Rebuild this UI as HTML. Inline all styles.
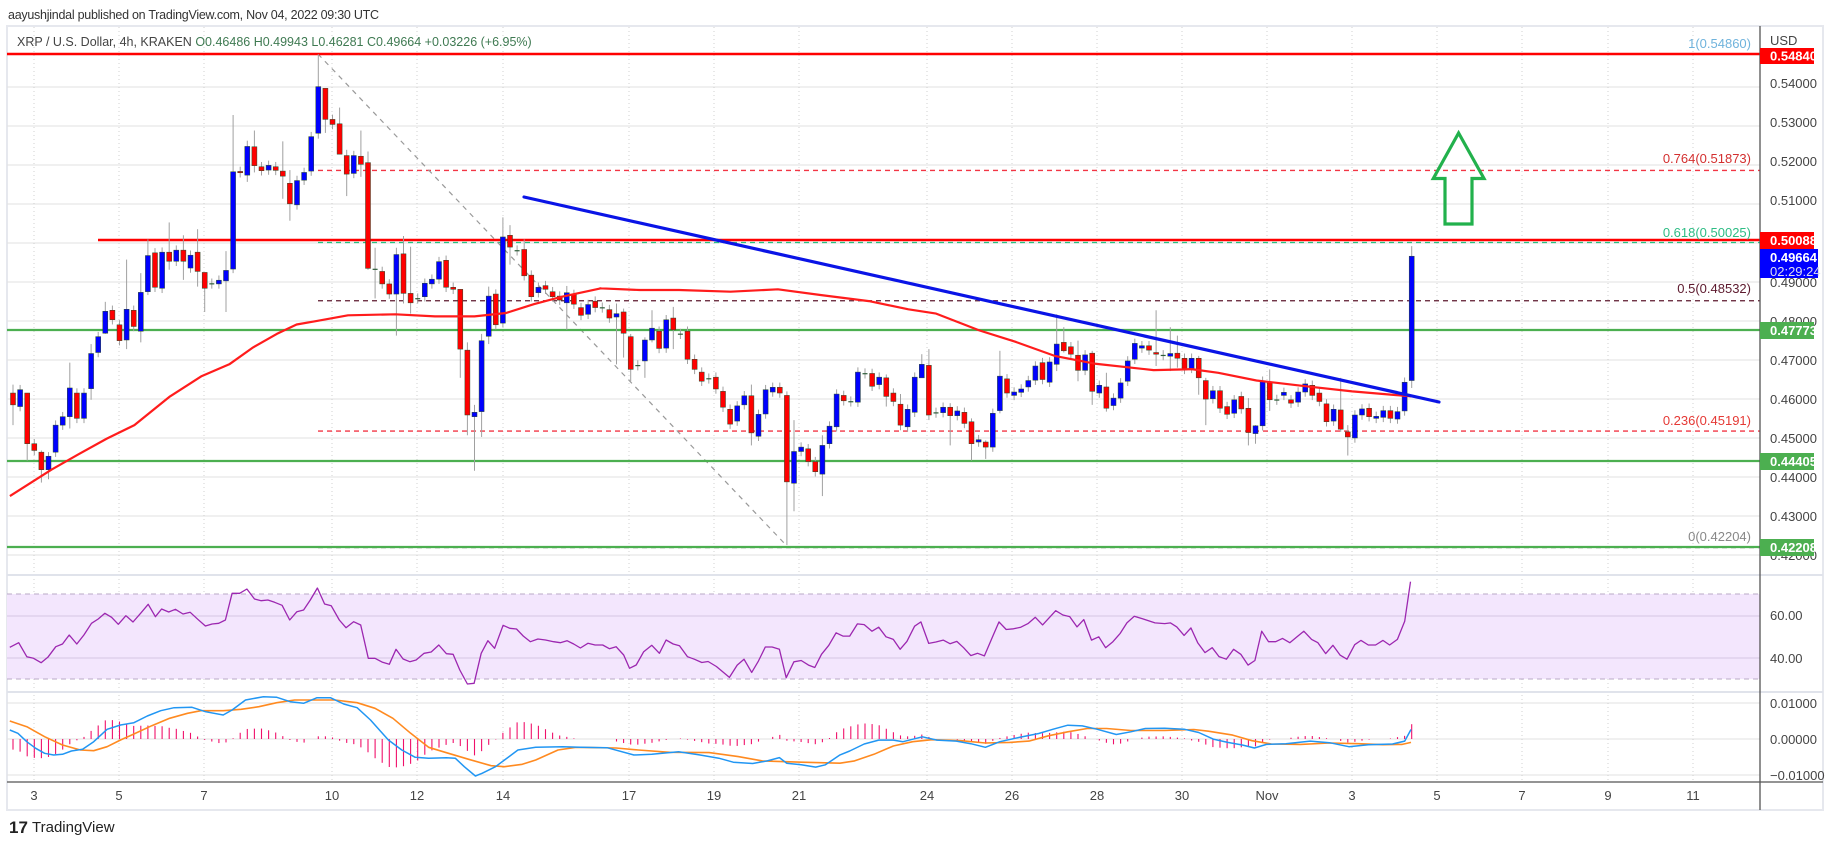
<!DOCTYPE html>
<html><head><meta charset="utf-8">
<style>
html,body{margin:0;padding:0;background:#fff;}
svg{display:block;font-family:"Liberation Sans",sans-serif;}
</style></head>
<body>
<svg id="s" width="1834" height="845" viewBox="0 0 1834 845" xmlns="http://www.w3.org/2000/svg">
<rect width="1834" height="845" fill="#fff"/>
<text x="8" y="19" font-size="12.5" fill="#333" textLength="371">aayushjindal published on TradingView.com, Nov 04, 2022 09:30 UTC</text>
<rect x="7" y="26" width="1816" height="784" fill="#fff" stroke="#e6e8ee" stroke-width="2"/>
<g id="grid"></g>
<rect x="7" y="594" width="1753" height="85" fill="#f3e6fd"/>
<g id="main"></g>
<text x="17" y="46" font-size="12.5" fill="#444"><tspan>XRP / U.S. Dollar, 4h, KRAKEN </tspan><tspan fill="#3f7a52">O0.46486  H0.49943  L0.46281  C0.49664  +0.03226 (+6.95%)</tspan></text>
<g id="axis" font-size="13" fill="#444"></g>
<g font-size="15" fill="#222"><text x="9" y="833" font-weight="bold" font-size="17">17</text><text x="32" y="832">TradingView</text></g>
</svg>
<script>
const NS="http://www.w3.org/2000/svg";
function el(par,tag,at,txt){const e=document.createElementNS(NS,tag);for(const k in at)e.setAttribute(k,at[k]);if(txt!==undefined)e.textContent=txt;document.getElementById(par).appendChild(e);return e;}
const PY=p=>555-(p-0.42)*3900;
const Y=p=>40+p/2.96;
// grid
for(let v=0.42;v<0.5451;v+=0.01){el('grid','line',{x1:7,x2:1760,y1:PY(v),y2:PY(v),stroke:'#e2e2e2','stroke-width':1});}
[616,658].forEach(y=>el('grid','line',{x1:7,x2:1760,y1:y,y2:y,stroke:'#e2e2e2'}));
[703,739,775].forEach(y=>el('grid','line',{x1:7,x2:1760,y1:y,y2:y,stroke:'#e2e2e2'}));
const dates=[["3",34],["5",119],["7",204],["10",332],["12",417],["14",503],["17",629],["19",714],["21",799],["24",927],["26",1012],["28",1097],["30",1182],["Nov",1267],["3",1352],["5",1437],["7",1522],["9",1608],["11",1693]];
dates.forEach(d=>el('grid','line',{x1:d[1],x2:d[1],y1:27,y2:782,stroke:'#d0d0d0','stroke-dasharray':'1,3'}));
// panes
el('main','line',{x1:7,x2:1823,y1:575,y2:575,stroke:'#e0e3eb','stroke-width':2});
el('main','line',{x1:7,x2:1823,y1:692,y2:692,stroke:'#e0e3eb','stroke-width':2});
el('main','line',{x1:7,x2:1760,y1:594,y2:594,stroke:'#b9a9c6','stroke-dasharray':'5,4'});
el('main','line',{x1:7,x2:1760,y1:679,y2:679,stroke:'#b9a9c6','stroke-dasharray':'5,4'});
el('main','line',{x1:7,x2:1760,y1:616,y2:616,stroke:'#d4c6e2'});
el('main','line',{x1:7,x2:1760,y1:658,y2:658,stroke:'#d4c6e2'});
// fib lines
const fx0=318;
[[0.5486,'#7a9cc0'],[0.51873,'#f23645'],[0.50025,'#26c281'],[0.48532,'#5d1a2e'],[0.45191,'#f23645'],[0.42204,'#888']].forEach(f=>{
 el('main','line',{x1:fx0,x2:1760,y1:PY(f[0])+0.5,y2:PY(f[0])+0.5,stroke:f[1],'stroke-width':1.3,'stroke-dasharray':'5,4'});});
el('main','line',{x1:318,y1:54,x2:786,y2:545,stroke:'#999','stroke-width':1.2,'stroke-dasharray':'5,5'});
// horizontals
el('main','line',{x1:7,x2:1760,y1:54,y2:54,stroke:'#ff0000','stroke-width':2.5});
el('main','line',{x1:98,x2:1760,y1:240,y2:240,stroke:'#ff0000','stroke-width':2.5});
[330,461,547].forEach(y=>el('main','line',{x1:7,x2:1760,y1:y,y2:y,stroke:'#4caf50','stroke-width':2.2}));
// fib labels
[["1(0.54860)",'#6fb3dc',48],["0.764(0.51873)",'#d32f2f',163],["0.618(0.50025)",'#2ebd85',237],["0.5(0.48532)",'#5d1a2e',293],["0.236(0.45191)",'#e53935',425],["0(0.42204)",'#888',541]].forEach(l=>el('main','text',{x:1751,y:l[2],'text-anchor':'end','font-size':13,fill:l[1]},l[0]));
// candles
const C=[
['r',1045,1080],['b',1035,1085],['r',1045,1195],['r',1195,1215],['r',1220,1272],['b',1232,1272],['b',1140,1220],['b',1115,1140],['b',1030,1115],['r',1045,1120],
['b',1045,1120],['b',928,1032],['b',878,925],['b',803,868],['r',800,828],['r',843,890],['b',797,888],['r',800,848],['b',747,862],['b',638,745],
['r',630,732],['b',628,735],['r',628,655],['b',622,655],['r',622,655],['b',637,675],['r',628,685],['r',688,735],['d',720,722],['b',711,722],
['b',682,713],['b',390,678],['r',389,393],['b',315,400],['r',316,372],['r',375,387],['b',371,385],['r',375,386],['r',388,403],['r',424,485],
['b',416,488],['b',392,415],['b',286,388],['b',138,276],['r',143,235],['r',235,250],['r',248,338],['r',342,397],['b',342,395],['r',344,368],
['r',363,676],['d',677,679],['r',685,722],['r',722,752],['b',635,752],['r',633,750],['r',750,778],['d',764,766],['b',720,760],['b',708,722],
['b',656,708],['r',652,732],['r',732,738],['r',738,915],['r',918,1110],['b',1102,1115],['b',890,1100],['b',758,877],['r',752,843],['b',583,838],
['r',578,613],['d',622,624],['r',620,698],['r',696,760],['b',732,748],['r',727,738],['r',745,760],['r',758,770],['b',748,778],['r',753,782],
['r',792,815],['b',783,812],['r',773,792],['d',791,793],['r',798,823],['b',810,820],
['r',805,868],['r',878,975],['d',962,964],['b',888,950],['b',853,888],['r',862,913],['b',828,912],['r',823,858],['d',869,871],['r',862,945],
['r',945,975],['r',983,1010],['d',1001,1003],['r',998,1033],['r',1040,1087],['r',1093,1137],['b',1083,1128],['b',1053,1080],['r',1053,1163],['b',1108,1173],
['b',1035,1107],['b',1028,1042],['r',1028,1045],['r',1052,1308],['b',1218,1312],['b',1205,1218],['r',1210,1248],['r',1248,1278],['b',1200,1285],['b',1143,1195],
['b',1048,1145],['r',1052,1068],['d',1069,1071],['b',983,1072],['d',986,988],['r',987,1025],['b',998,1020],['r',1000,1055],['r',1045,1070],['r',1078,1140],
['b',1093,1145],['b',998,1102],['b',960,1000],['r',963,1110],['d',1102,1104],['b',1087,1103],['r',1087,1112],['b',1098,1112],['r',1102,1135],['r',1130,1195],
['b',1183,1190],['r',1190,1205],['b',1105,1205],['b',995,1097],['r',1003,1045],['b',1042,1052],['b',1033,1043],['b',1008,1027],['b',965,1007],['r',955,1005],
['b',953,1013],['b',900,960],['r',895,920],['r',908,930],['r',933,978],['b',932,978],['r',927,1040],['b',1022,1045],['r',1027,1090],['b',1060,1082],
['b',1015,1060],['b',950,1010],['b',898,945],['b',905,912],['r',905,918],['r',925,930],['d',932,934],['b',928,936],['r',927,942],['r',942,975],
['b',942,972],['r',942,1000],['r',1008,1063],['b',1038,1062],['r',1038,1090],
['r',1085,1108],['b',1065,1105],['r',1055,1092],['r',1090,1162],['b',1142,1165],['b',1010,1142],['r',1013,1065],['d',1064,1066],['b',1043,1052],['r',1065,1075],
['b',1042,1072],['b',1018,1042],['r',1022,1052],['r',1045,1070],['r',1077,1130],['b',1093,1128],['r',1095,1152],['r',1160,1175],['b',1110,1178],['b',1092,1110],
['r',1090,1115],['b',1114,1120],['b',1097,1117],['r',1097,1120],['b',1100,1122],['b',1013,1098],['b',640,1008]];
const W={1:[1020,1140],3:[1045,1245],5:[1215,1310],6:[1220,1300],9:[955,1150],12:[900,1065],14:[775,870],17:[650,915],19:[690,895],20:[590,755],23:[540,680],25:[578,710],27:[560,730],28:[688,805],31:[625,805],32:[222,690],34:[298,420],35:[268,392],39:[300,470],40:[385,535],44:[42,292],45:[143,275],47:[200,338],48:[325,462],50:[268,405],51:[330,680],52:[615,765],55:[615,875],56:[580,780],57:[612,810],64:[738,1000],65:[895,1170],66:[1080,1275],67:[870,1175],68:[730,900],70:[525,850],71:[548,665],73:[590,712],79:[728,858],86:[780,960],87:[795,940],88:[870,1010],90:[880,1000],91:[800,895],94:[790,915],105:[1020,1200],110:[1040,1495],111:[1125,1395],115:[1170,1350],124:[990,1085],126:[1048,1155],129:[930,1000],130:[915,1125],133:[1075,1200],136:[1120,1245],138:[1185,1240],140:[920,1105],148:[812,980],149:[850,925],151:[890,1010],153:[920,1080],155:[985,1100],162:[800,965],164:[850,980],165:[875,970],168:[935,1050],169:[1000,1140],175:[1060,1200],176:[1140,1195],178:[975,1098],188:[1000,1160],189:[1140,1230],198:[610,1030]};
const cx=i=>13+(i-1)*7.1;
C.forEach((c,k)=>{const i=k+1,x=cx(i);let hi=c[1]-14,lo=c[2]+14;if(W[i]){hi=W[i][0];lo=W[i][1];}
 el('main','line',{x1:x,x2:x,y1:Y(hi),y2:Y(lo),stroke:'#a0a0a0','stroke-width':1});
 const t=Y(c[1]),b=Math.max(Y(c[2]),t+1.2);
 const col=c[0]=='b'?'#0000ff':(c[0]=='r'?'#ff0000':'#2e5e3a');
 el('main','rect',{x:x-2.5,y:t,width:5,height:b-t,fill:col,stroke:c[0]=='d'?'none':'#2a4a2a','stroke-width':0.5});});
function conv(a,ox,fx,oy,fy){return a.map(p=>[ox+p[0]/fx,oy+p[1]/fy]);}
function pl(pts,col,w){el('main','polyline',{points:pts.map(p=>p[0].toFixed(1)+','+p[1].toFixed(1)).join(' '),fill:'none',stroke:col,'stroke-width':w,'stroke-linejoin':'round'});}
// MA
let ma=conv([[25,1350],[130,1272],[200,1225],[270,1180],[340,1140],[430,1055],[510,995],[580,960],[640,910],[700,870],[750,842],[800,832],[880,815],[1000,812],[1100,818],[1200,818],[1280,808],[1350,782],[1420,760],[1520,735]],0,2.529,40,2.96)
.concat(conv([[0,735],[100,740],[200,740],[330,745],[450,738],[560,755],[680,773],[780,797],[850,810],[960,860],[1050,893],[1150,935],[1250,958],[1400,977],[1480,975]],600,2.529,40,2.96))
.concat(conv([[30,974],[100,985],[200,1008],[330,1025],[450,1040],[605,1055]],1180,2.613,40,2.96));
pl(ma,'#ff1c1c',2.2);
// trendline
el('main','line',{x1:524,y1:197,x2:1439,y2:402,stroke:'#0a14e6','stroke-width':3.2,'stroke-linecap':'round'});
// arrow
el('main','polygon',{points:'1458.6,133 1433.3,178.5 1445,178.5 1445,224 1472,224 1472,178.5 1484,178.5',fill:'none',stroke:'#22b14c','stroke-width':3.2,'stroke-linejoin':'miter'});
// RSI
let rsi=conv([[22,262],[42,248],[60,290],[75,295],[92,308],[107,292],[125,260],[140,252],[155,225],[172,252],[188,225],[205,190],[220,177],[235,160],[250,172],[265,193],[282,167],[298,186],[315,160],[332,133],[348,170],[362,147],[378,156],[393,148],[410,162],[426,157],[443,178],[460,198],[475,192],[490,190],[505,180],[520,100],[537,100],[553,87],[570,117],[585,122],[600,120],[615,127],[632,136],[649,180],[665,155],[680,150],[695,120],[711,84],[727,132],[742,137],[760,180],[775,203],[792,185],[808,195],[825,295],[840,295],[857,307],[872,313],[887,268],[903,297],[918,305],[932,300],[950,280],[966,276],[983,255],[1000,281],[1015,283],[1030,330],[1047,372],[1062,370],[1078,280],[1093,242],[1108,265],[1127,196],[1142,205],[1157,207],[1172,228],[1188,245],[1205,237],[1222,240],[1240,245],[1255,248],[1270,242],[1285,252],[1300,264],[1317,250],[1333,255],[1350,255],[1365,266],[1380,260],[1397,285],[1410,325],[1425,315],[1442,275],[1460,256],[1477,280],[1492,240],[1508,252],[1522,257],[1540,290],[1556,298]],0,2.24,560,3)
.concat(conv([[45,250],[58,247],[75,262],[102,295],[118,258],[132,240],[148,280],[162,245],[176,203],[190,203],[205,210],[219,296],[235,248],[250,244],[265,258],[278,265],[292,225],[307,198],[322,160],[336,170],[350,170],[366,133],[380,135],[396,155],[410,143],[425,172],[440,180],[454,210],[468,186],[484,140],[497,127],[513,192],[528,188],[543,182],[557,193],[571,186],[585,205],[600,229],[614,222],[628,230],[643,178],[658,127],[673,150],[688,148],[703,143],[718,132],[733,113],[748,136],[775,93],[790,106],[804,111],[819,142],[833,120],[849,182],[864,172],[878,205],[893,187],[908,162],[922,130],[937,110],[955,118],[980,130],[1000,132],[1012,130],[1025,142],[1040,168],[1054,145],[1068,190],[1083,220],[1098,205],[1112,232],[1127,240],[1142,210],[1157,225],[1172,258],[1186,244],[1200,155],[1214,187],[1229,187],[1243,177],[1258,190],[1287,155],[1303,180],[1316,190],[1332,223],[1347,198],[1362,228],[1376,240],[1392,196],[1405,183],[1420,197],[1435,197],[1450,183],[1464,197],[1480,180],[1495,125],[1507,5]],680,2.063,580,3.03));
pl(rsi,'#9c27b0',1.3);
// MACD
let mb=conv([[22,510],[40,520],[60,545],[80,565],[100,580],[120,585],[140,583],[160,573],[185,568],[210,545],[240,508],[270,495],[300,488],[330,468],[360,452],[390,443],[430,442],[460,455],[500,465],[520,450],[550,420],[590,410],[620,412],[650,425],[680,430],[710,413],[740,413],[770,432],[800,443],[830,480],[870,540],[900,570],[930,592],[960,595],[1000,593],[1020,595],[1040,620],[1065,648],[1080,640],[1110,620],[1130,600],[1160,570],[1200,562],[1260,560],[1300,562],[1360,563],[1420,585],[1460,583],[1520,575]],0,2.24,560,3)
.concat(conv([[40,530],[80,540],[110,552],[150,556],[180,548],[205,538],[220,555],[250,560],[280,567],[300,560],[330,530],[350,518],[380,497],[410,485],[440,485],[460,490],[500,475],[530,485],[570,488],[600,496],[630,507],[660,490],[700,477],[740,465],[770,452],[800,440],[830,442],[860,452],[900,468],[930,460],[960,450],[1000,449],[1040,452],[1070,462],[1100,482],[1130,492],[1160,500],[1185,509],[1210,498],[1250,496],[1300,488],[1340,493],[1380,505],[1420,499],[1470,497],[1495,488],[1508,453]],680,2.063,580,3.03));
let mo=conv([[22,483],[60,500],[100,530],[140,555],[180,570],[210,572],[240,560],[270,540],[300,522],[340,497],[380,475],[420,460],[450,452],[500,452],[540,448],[580,440],[620,428],[660,420],[700,420],[750,420],[800,428],[840,445],[880,475],[920,520],[960,562],[1000,578],[1050,598],[1100,617],[1130,620],[1170,613],[1200,600],[1250,570],[1290,562],[1380,564],[1430,570],[1500,577]],0,2.24,560,3)
.concat(conv([[60,523],[120,535],[170,548],[250,552],[330,555],[360,548],[400,528],[440,503],[480,490],[520,484],[580,487],[630,494],[680,492],[720,488],[760,472],[800,460],[840,450],[880,450],[930,456],[1000,456],[1060,453],[1090,458],[1140,470],[1180,487],[1220,497],[1280,498],[1340,494],[1400,496],[1450,499],[1490,498],[1508,492]],680,2.063,580,3.03));
function interp(a,x){if(x<=a[0][0])return a[0][1];for(let i=1;i<a.length;i++){if(a[i][0]>=x){const t=(x-a[i-1][0])/(a[i][0]-a[i-1][0]);return a[i-1][1]+t*(a[i][1]-a[i-1][1]);}}return a[a.length-1][1];}
for(let i=1;i<=198;i++){const x=cx(i);const d=(interp(mb,x)-interp(mo,x))*1.15;if(Math.abs(d)<0.5)continue;
 el('main','line',{x1:x,x2:x,y1:739,y2:739+d,stroke:'#f0106a','stroke-width':1.1});}
pl(mo,'#ff8a20',1.6);
pl(mb,'#2196f3',1.5);
// axes
el('main','line',{x1:1760,x2:1760,y1:26,y2:810,stroke:'#555','stroke-width':1.3});
el('main','line',{x1:7,x2:1823,y1:782,y2:782,stroke:'#555','stroke-width':1.3});
dates.forEach(d=>el('axis','text',{x:d[1],y:800,'text-anchor':'middle'},d[0]));
el('axis','text',{x:1770,y:45},'USD');
[[0.54,88],[0.53,127],[0.52,166],[0.51,205],[0.49,287],[0.48,326],[0.47,365],[0.46,404],[0.45,443],[0.44,482],[0.43,521],[0.42,560]].forEach(t=>el('axis','text',{x:1770,y:t[1]},t[0].toFixed(5)));
[["60.00",620],["40.00",663],["0.01000",708],["0.00000",744],["\u22120.01000",780]].forEach(t=>el('axis','text',{x:1770,y:t[1]},t[0]));
function box(y,h,col,txt){el('axis','rect',{x:1760,y:y,width:54,height:h,fill:col});el('axis','text',{x:1770,y:y+h/2+4.5,fill:'#fff','font-weight':'bold'},txt);}
box(48,16,'#ff0000','0.54840');
box(232,17,'#ff0000','0.50088');
box(322,17,'#4caf50','0.47773');
box(453,17,'#4caf50','0.44405');
box(539,17,'#4caf50','0.42208');
el('axis','rect',{x:1760,y:249,width:58,height:29,fill:'#0000ff'});
el('axis','text',{x:1770,y:262,fill:'#fff','font-weight':'bold'},'0.49664');
el('axis','text',{x:1770,y:276,fill:'#dde'},'02:29:24');
</script>
</body></html>
